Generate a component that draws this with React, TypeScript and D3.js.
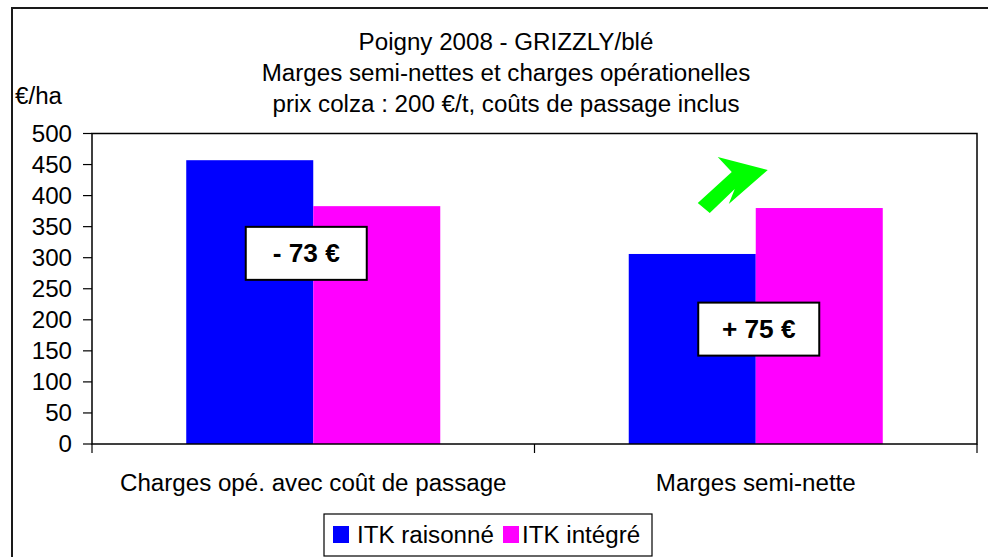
import React from 'react';
import * as d3 from 'd3';

// chart data
const categories = ['Charges opé. avec coût de passage', 'Marges semi-nette'];
const seriesNames = ['ITK raisonné', 'ITK intégré'];
const raisonneValues = [457, 306];
const integreValues = [383, 380];
const seriesColors = ['#0000FF', '#FF00FF'];
const yTicks = [0, 50, 100, 150, 200, 250, 300, 350, 400, 450, 500];
const titleLines = [
  'Poigny 2008 - GRIZZLY/blé',
  'Marges semi-nettes et charges opérationelles',
  'prix colza : 200 €/t, coûts de passage inclus',
];
const yUnit = '€/ha';
const diffLabels = ['- 73 €', '+ 75 €'];
const diffLevels = [307, 185]; // value where each label box is centred

const W = 988;
const H = 557;
const FONT = '"Liberation Sans", Arial, sans-serif';
const SX = 1.05; // the original text is slightly wide

const App = () => {
  const margin = { top: 133.5, right: 11, bottom: 113, left: 92 };
  const innerW = W - margin.left - margin.right;
  const innerH = H - margin.top - margin.bottom;

  const x0 = d3.scaleBand().domain(categories).range([0, innerW]).padding(0);
  const x1 = d3
    .scaleBand()
    .domain(seriesNames)
    .range([0, x0.bandwidth()])
    .paddingInner(0)
    .paddingOuter(0.742);
  const y = d3.scaleLinear().domain([0, 500]).range([innerH, 0]);

  const values = [raisonneValues, integreValues];

  const txt = (x, yy, s, opts = {}) => (
    <text
      transform={`translate(${x},${yy}) scale(${SX},1)`}
      fontFamily={FONT}
      fontSize={opts.size || 23}
      fontWeight={opts.bold ? 'bold' : 'normal'}
      textAnchor={opts.anchor || 'middle'}
      fill="#000"
    >
      {s}
    </text>
  );

  // green arrow shape, relative to the top of the second "intégré" bar
  const arrowPts = [
    [12, -38], [-27, -4], [-21, -19], [-46, 5], [-58, -5], [-24, -36], [-38, -51],
  ];
  const ax = margin.left + x0(categories[1]) + x0.bandwidth() / 2;
  const ay = margin.top + y(integreValues[1]);

  const legendX = 324;
  const legendY = 514;

  return (
    <svg
      width={W}
      height={H}
      style={{ position: 'absolute', left: 0, top: 0, background: '#fff' }}
    >
      <rect x={12} y={8} width={W + 20} height={H + 20} fill="#fff" stroke="#1a1a1a" strokeWidth={2} />

      {titleLines.map((t, i) => (
        <React.Fragment key={i}>{txt(506, 50 + i * 31, t)}</React.Fragment>
      ))}
      {txt(15, 104, yUnit, { anchor: 'start' })}

      <g transform={`translate(${margin.left},${margin.top})`}>
        {categories.map((c, ci) =>
          seriesNames.map((s, si) => (
            <rect
              key={c + s}
              x={x0(c) + x1(s)}
              y={y(values[si][ci])}
              width={x1.bandwidth()}
              height={innerH - y(values[si][ci])}
              fill={seriesColors[si]}
            />
          ))
        )}

        <rect x={0} y={0} width={innerW} height={innerH} fill="none" stroke="#000" strokeWidth={1.5} />

        {yTicks.map((t) => (
          <g key={t} transform={`translate(0,${y(t)})`}>
            <line x1={-9} x2={0} stroke="#000" strokeWidth={1.2} />
            {txt(-20, 8, String(t), { anchor: 'end' })}
          </g>
        ))}

        {[0, 1, 2].map((i) => (
          <line
            key={i}
            x1={i * x0.step()}
            x2={i * x0.step()}
            y1={innerH}
            y2={innerH + 9}
            stroke="#000"
            strokeWidth={1.2}
          />
        ))}

        {categories.map((c) => (
          <React.Fragment key={c}>{txt(x0(c) + x0.bandwidth() / 2, innerH + 47, c)}</React.Fragment>
        ))}

        {diffLabels.map((d, i) => {
          const cx = x0(categories[i]) + x0.bandwidth() / 2 + (i === 0 ? -7 : 3);
          const cy = y(diffLevels[i]);
          return (
            <g key={d}>
              <rect x={cx - 60.5} y={cy - 26.5} width={121} height={53} fill="#fff" stroke="#000" strokeWidth={2} />
              {txt(cx, cy + 9, d, { bold: true, size: 25 })}
            </g>
          );
        })}
      </g>

      <polygon
        points={arrowPts.map(([px, py]) => `${ax + px},${ay + py}`).join(' ')}
        fill="#00FF00"
      />

      <g>
        <rect x={legendX} y={legendY} width={328} height={42} fill="#fff" stroke="#000" strokeWidth={1.2} />
        <rect x={legendX + 9} y={legendY + 12} width={16} height={17} fill={seriesColors[0]} />
        {txt(legendX + 33, legendY + 29, seriesNames[0], { anchor: 'start' })}
        <rect x={legendX + 179} y={legendY + 12} width={16} height={17} fill={seriesColors[1]} />
        {txt(legendX + 198, legendY + 29, seriesNames[1], { anchor: 'start' })}
      </g>
    </svg>
  );
};

export default App;
